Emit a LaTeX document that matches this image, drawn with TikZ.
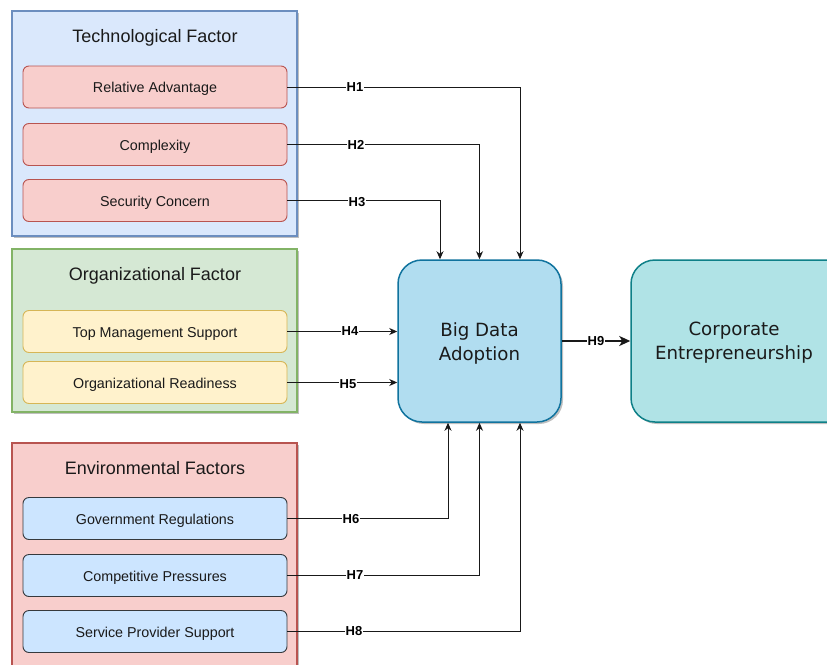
\documentclass[tikz,border=0pt]{standalone}
\usepackage{fontspec}
\setmainfont{Liberation Sans}
\newfontfamily\dejavu{DejaVu Sans}
\usetikzlibrary{arrows.meta,shadows}

\definecolor{techfill}{HTML}{DAE8FC}
\definecolor{techline}{HTML}{6C8EBF}
\definecolor{redfill}{HTML}{F8CECC}
\definecolor{redline}{HTML}{B85450}
\definecolor{orgfill}{HTML}{D5E8D4}
\definecolor{orgline}{HTML}{82B366}
\definecolor{yelfill}{HTML}{FFF2CC}
\definecolor{yelline}{HTML}{D6B656}
\definecolor{envitemfill}{HTML}{CCE5FF}
\definecolor{envitemline}{HTML}{36393D}
\definecolor{bdafill}{HTML}{B1DDF0}
\definecolor{bdaline}{HTML}{10739E}
\definecolor{cefill}{HTML}{B0E3E6}
\definecolor{celine}{HTML}{0E8088}
\definecolor{ink}{HTML}{1A1A1A}

\tikzset{
  softshadow/.style={drop shadow={shadow xshift=2pt,shadow yshift=-2pt,opacity=0.25,fill=black}},
  group/.style={draw, line width=1.3pt, softshadow},
  grouptitle/.style={font=\fontsize{18}{21}\selectfont, text=ink, inner sep=0pt},
  item/.style={draw, rounded corners=6pt, line width=0.9pt, minimum width=264pt,
    minimum height=42pt, inner sep=0pt, text height=13pt, text depth=1.7pt,
    font=\fontsize{14.3}{16}\selectfont, text=ink},
  bigbox/.style={draw, rounded corners=24pt, line width=1.5pt, minimum height=162pt,
    inner sep=0pt, softshadow},
  bigtext/.style={align=center, inner sep=0pt, font=\dejavu\fontsize{18.2}{24}\selectfont, text=ink},
  arr/.style={draw=black!90, line width=1pt, -{Stealth[length=8pt,width=7pt,inset=2.5pt]}},
  lab/.style={font=\bfseries\fontsize{13}{15}\selectfont, fill=white, inner sep=0.5pt, text=black}
}

\begin{document}
\begin{tikzpicture}[x=1pt,y=-1pt]
\useasboundingbox (0,0) rectangle (827,664);
\fill[white] (0,0) rectangle (827,664);

% Technological factor group
\draw[group, fill=techfill, draw=techline] (12,11) rectangle (297,236);
\node[grouptitle] (ttech) at (155,37.5) {Technological Factor};
\node[item, fill=redfill, draw=redline] (ra) at (155,87) {Relative Advantage};
\node[item, fill=redfill, draw=redline] (cx) at (155,144.5) {Complexity};
\node[item, fill=redfill, draw=redline] (sc) at (155,200.5) {Security Concern};

% Organizational factor group
\draw[group, fill=orgfill, draw=orgline] (12,249) rectangle (297,412);
\node[grouptitle] (torg) at (155,275.5) {Organizational Factor};
\node[item, fill=yelfill, draw=yelline] (tms) at (155,331.5) {Top Management Support};
\node[item, fill=yelfill, draw=yelline] (ordy) at (155,382.5) {Organizational Readiness};

% Environmental factors group (runs past the lower edge)
\draw[group, fill=redfill, draw=redline] (12,443) rectangle (297,690);
\node[grouptitle] (tenv) at (155,468.5) {Environmental Factors};
\node[item, fill=envitemfill, draw=envitemline] (gr) at (155,518.5) {Government Regulations};
\node[item, fill=envitemfill, draw=envitemline] (cp) at (155,575.5) {Competitive Pressures};
\node[item, fill=envitemfill, draw=envitemline] (sp) at (155,631.5) {Service Provider Support};

% Central constructs
\node[bigbox, fill=bdafill, draw=bdaline, minimum width=163pt] (bda) at (479.5,341) {};
\node[bigtext] (bdatext) at (479.5,343) {Big Data\\Adoption};
\node[bigbox, fill=cefill, draw=celine, minimum width=240pt] (ce) at (751,341) {};
\node[bigtext] (cetext) at (734,343) {Corporate\\Entrepreneurship};

% Hypotheses
\draw[arr] (ra.east) -| ([xshift=40.5pt]bda.north);
\node[lab] (h1) at (355,87) {H1};
\draw[arr] (cx.east) -| (bda.north);
\node[lab] (h2) at (356,144.5) {H2};
\draw[arr] (sc.east) -| ([xshift=-39.5pt]bda.north);
\node[lab] (h3) at (357,202) {H3};

\draw[arr] (tms.east) -- (tms.east -| bda.west);
\node[lab] (h4) at (350,331.5) {H4};
\draw[arr] (ordy.east) -- (ordy.east -| bda.west);
\node[lab] (h5) at (348,384.5) {H5};

\draw[arr] (gr.east) -| ([xshift=-31.5pt]bda.south);
\node[lab] (h6) at (351,519) {H6};
\draw[arr] (cp.east) -| (bda.south);
\node[lab] (h7) at (355,575.5) {H7};
\draw[arr] (sp.east) -| ([xshift=40.5pt]bda.south);
\node[lab] (h8) at (354,631.5) {H8};

\draw[arr, line width=1.7pt, -{Stealth[length=11pt,width=10pt,inset=3pt]}] (bda.east) -- (ce.west);
\node[lab] (h9) at (596,341) {H9};
\end{tikzpicture}
\end{document}
